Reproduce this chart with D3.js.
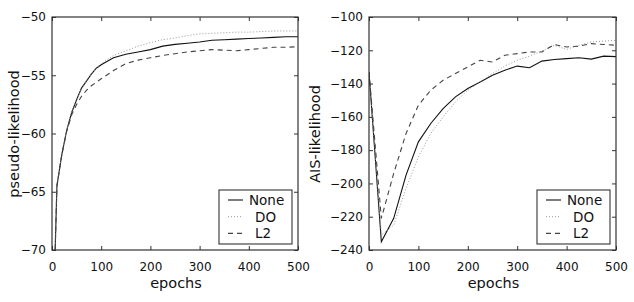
<!DOCTYPE html>
<html>
<head>
<meta charset="utf-8">
<script src="https://cdn.jsdelivr.net/npm/d3@7"></script>
<style>
body { margin: 0; background: #fff; }
svg { font-family: "DejaVu Sans", sans-serif; }
.tick text { fill: #111; }
</style>
</head>
<body>
<svg width="634" height="302"></svg>
<script>
// DATA
const epochsPL = [0, 10, 20, 30, 40, 50, 60, 70, 80, 90, 100, 125, 150, 175, 200, 225, 250, 275, 300, 325, 350, 375, 400, 425, 450, 475, 500];
const plNone = [-80, -64.5, -61.8, -59.7, -58.2, -57.1, -56.1, -55.5, -54.9, -54.4, -54.1, -53.5, -53.2, -53.0, -52.8, -52.5, -52.35, -52.25, -52.15, -52.0, -51.95, -51.9, -51.85, -51.8, -51.75, -51.7, -51.7];
const plDO = [-80, -64.5, -61.8, -59.7, -58.2, -57.1, -56.2, -55.5, -54.9, -54.4, -54.0, -53.3, -52.9, -52.5, -52.2, -51.95, -51.8, -51.6, -51.45, -51.4, -51.35, -51.3, -51.3, -51.25, -51.2, -51.2, -51.2];
const plL2 = [-80, -64.5, -61.8, -59.8, -58.4, -57.5, -56.8, -56.3, -55.9, -55.6, -55.3, -54.6, -54.0, -53.7, -53.5, -53.3, -53.15, -53.0, -52.9, -52.8, -52.85, -52.9, -52.8, -52.7, -52.6, -52.6, -52.55];

const epochsAIS = [0, 25, 50, 75, 100, 125, 150, 175, 200, 225, 250, 275, 300, 325, 350, 375, 400, 425, 450, 475, 500];
const aisNone = [-133, -235, -221, -195, -175, -164, -155, -148, -143, -139, -135, -132, -129.5, -130.5, -126.5, -125.5, -125, -124.5, -125.3, -123.5, -123.8];
const aisDO = [-133, -231, -225, -203, -184, -170, -160, -151, -144, -139, -134, -129.5, -126, -123.5, -120.5, -117, -119.5, -117, -115, -114.5, -114];
const aisL2 = [-133, -221, -194, -170, -153, -144, -138, -134, -130, -126, -127, -123, -122, -121, -121, -116.5, -118, -117.5, -116, -116.5, -117];

const xTicks = [0, 100, 200, 300, 400, 500];
const plTicks = [-50, -55, -60, -65, -70];
const aisTicks = [-100, -120, -140, -160, -180, -200, -220, -240];
const seriesNames = ['None', 'DO', 'L2'];

const styles = {
    None: {stroke: '#111', dash: null, width: 1.1},
    DO: {stroke: '#999', dash: '1,2', width: 1},
    L2: {stroke: '#444', dash: '5,4', width: 1.1}
};

const svg = d3.select('svg');

function panel(cfg){
    const g = svg.append('g');
    const x = d3.scaleLinear().domain([0, 500]).range([cfg.x0, cfg.x1]);
    const y = d3.scaleLinear().domain(cfg.yDomain).range([cfg.y1, cfg.y0]);

    // clip
    g.append('clipPath').attr('id', cfg.id)
        .append('rect')
        .attr('x', cfg.x0).attr('y', cfg.y0)
        .attr('width', cfg.x1 - cfg.x0).attr('height', cfg.y1 - cfg.y0);

    const fmt = d => d3.format('d')(d).replace('-', '\u2212');

    // axes with inward ticks on all sides
    const axB = g.append('g').attr('transform', `translate(0,${cfg.y1})`)
        .call(d3.axisBottom(x).tickValues(xTicks).tickSize(-4).tickPadding(12).tickFormat(fmt));
    const axT = g.append('g').attr('transform', `translate(0,${cfg.y0})`)
        .call(d3.axisTop(x).tickValues(xTicks).tickSize(-4).tickFormat(''));
    const axL = g.append('g').attr('transform', `translate(${cfg.x0},0)`)
        .call(d3.axisLeft(y).tickValues(cfg.yTicks).tickSize(-4).tickPadding(6).tickFormat(fmt));
    const axR = g.append('g').attr('transform', `translate(${cfg.x1},0)`)
        .call(d3.axisRight(y).tickValues(cfg.yTicks).tickSize(-4).tickFormat(''));
    [axB, axT, axL, axR].forEach(a => {
        a.select('.domain').remove();
        a.selectAll('.tick line').attr('stroke', '#333');
        a.selectAll('.tick text').attr('font-size', 12).attr('font-family', '"DejaVu Sans", sans-serif');
    });

    // lines
    const line = d3.line().x(d => x(d[0])).y(d => y(d[1]));
    const lines = g.append('g').attr('clip-path', `url(#${cfg.id})`);
    seriesNames.forEach((name, i) => {
        const data = cfg.epochs.map((e, j) => [e, cfg.series[i][j]]);
        lines.append('path')
            .datum(data)
            .attr('d', line)
            .attr('fill', 'none')
            .attr('stroke', styles[name].stroke)
            .attr('stroke-width', styles[name].width)
            .attr('stroke-dasharray', styles[name].dash);
    });

    // frame
    g.append('rect')
        .attr('x', cfg.x0).attr('y', cfg.y0)
        .attr('width', cfg.x1 - cfg.x0).attr('height', cfg.y1 - cfg.y0)
        .attr('fill', 'none').attr('stroke', '#333').attr('stroke-width', 1.2);

    // labels
    g.append('text')
        .attr('x', (cfg.x0 + cfg.x1) / 2 + 1).attr('y', 288)
        .attr('text-anchor', 'middle').attr('font-size', 14.5).attr('fill', '#111')
        .text('epochs');
    g.append('text')
        .attr('transform', `translate(${cfg.ylabX},134) rotate(-90)`)
        .attr('text-anchor', 'middle').attr('font-size', 14.5).attr('fill', '#111')
        .text(cfg.ylabel);

    // legend
    const lg = g.append('g');
    lg.append('rect')
        .attr('x', cfg.x1 - 79).attr('y', 190)
        .attr('width', 73).attr('height', 54)
        .attr('fill', '#fff').attr('stroke', '#333').attr('stroke-width', 1.1);
    seriesNames.forEach((name, i) => {
        const yy = 200 + i * 16.7;
        lg.append('line')
            .attr('x1', cfg.x1 - 70).attr('x2', cfg.x1 - 55)
            .attr('y1', yy).attr('y2', yy)
            .attr('stroke', styles[name].stroke)
            .attr('stroke-width', styles[name].width)
            .attr('stroke-dasharray', styles[name].dash);
        lg.append('text')
            .attr('x', cfg.x1 - 46 + (name === 'None' ? -3 : 3)).attr('y', yy + 5)
            .attr('font-size', 13.5).attr('fill', '#111')
            .text(name);
    });
}

panel({
    id: 'clipPL', x0: 52, x1: 298, y0: 17, y1: 250,
    yDomain: [-70, -50], yTicks: plTicks, ylabel: 'pseudo-likelihood', ylabX: 19,
    epochs: epochsPL, series: [plNone, plDO, plL2]
});
panel({
    id: 'clipAIS', x0: 369, x1: 616, y0: 17, y1: 250,
    yDomain: [-240, -100], yTicks: aisTicks, ylabel: 'AIS-likelihood', ylabX: 320,
    epochs: epochsAIS, series: [aisNone, aisDO, aisL2]
});
</script>
</body>
</html>
